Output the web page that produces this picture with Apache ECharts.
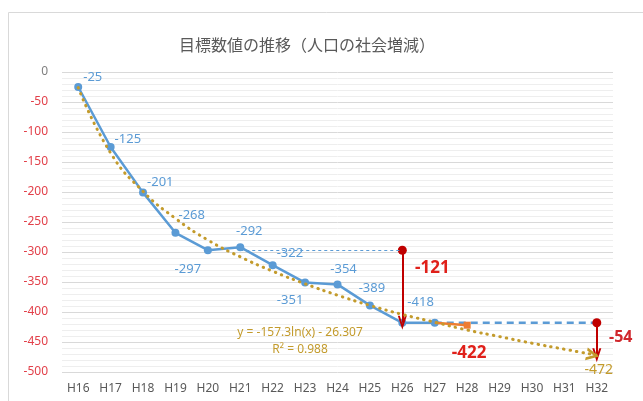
<!DOCTYPE html>
<html>
<head>
<meta charset="utf-8">
<script src="https://cdn.jsdelivr.net/npm/echarts@6/dist/echarts.min.js"></script>
<style>
  html, body { margin: 0; padding: 0; background: #fff; }
  #chart { width: 643px; height: 401px; }
</style>
</head>
<body>
<div id="chart"></div>
<script>
// 年度
const categories = ['H16', 'H17', 'H18', 'H19', 'H20', 'H21', 'H22', 'H23', 'H24', 'H25', 'H26', 'H27', 'H28', 'H29', 'H30', 'H31', 'H32']
// 実績（人口の社会増減）
const actual = [-25, -125, -201, -268, -297, -292, -322, -351, -354, -389, -418, -418, null, null, null, null, null]
// H27 の水準を H32 まで横ばい
const flatPlan = [null, null, null, null, null, null, null, null, null, null, null, -418, -418, -418, -418, -418, -418]
// 目標（H28）
const target = [null, null, null, null, null, null, null, null, null, null, null, -418, -422, null, null, null, null]
// 近似曲線（対数）
const trend = [-26, -135, -199, -244, -280, -308, -332, -353, -372, -389, -404, -417, -430, -441, -452, -462, -472]
const trendFormula = 'y = -157.3ln(x) - 26.307'
const trendR2 = 'R² = 0.988'

// ラベル位置 [position, dx, dy]
const labelPlace = [
  ['right', -4, -10], ['right', -5, -8], ['right', -5, -10], ['right', -6, -18],
  ['bottom', -20, 4], ['top', 9, 0], ['right', -5, -12], ['bottom', -15, 2],
  ['top', 6, 0], ['top', 2, -2], ['right', -4, -21], null
]

const blue = '#5B9BD5'
const gold = '#C39B2C'
const red = '#C00000'
const brightRed = '#E0201A'
// 開いた矢印
const vArrow = 'path://M0,10 L5,0 L10,10 L7.8,10 L5,4.4 L2.2,10 Z'
const endArrow = 'path://M0,0 L10,5 L0,10 L0,7.6 L5.6,5 L0,2.4 Z'

const chart = echarts.init(document.getElementById('chart'))

const actualData = actual.map((v, i) => {
  const p = labelPlace[i]
  if (v === null) return null
  return {
    value: v,
    label: p ? { show: true, position: p[0], offset: [p[1], p[2]] } : { show: false }
  }
})

const option = {
  animation: false,
  title: {
    text: '目標数値の推移（人口の社会増減）',
    left: 302,
    top: 32,
    textAlign: 'center',
    textStyle: {
      color: '#595959',
      fontSize: 16,
      fontWeight: 'normal',
      fontFamily: 'Noto Sans CJK JP'
    }
  },
  graphic: [{
    type: 'rect',
    left: 6,
    top: 10,
    shape: { width: 700, height: 420 },
    style: { fill: 'none', stroke: '#D9D9D9', lineWidth: 1 },
    silent: true
  }],
  grid: {
    left: 62,
    right: 30,
    top: 72,
    bottom: 29
  },
  xAxis: {
    type: 'category',
    data: categories,
    boundaryGap: true,
    axisLine: { show: false },
    axisTick: { show: false },
    axisLabel: {
      color: '#595959',
      fontSize: 12,
      fontFamily: 'Noto Sans',
      margin: 11
    }
  },
  yAxis: {
    type: 'value',
    min: -500,
    max: 0,
    interval: 50,
    axisLine: { show: false },
    axisTick: { show: false },
    axisLabel: {
      fontSize: 12,
      fontFamily: 'Noto Sans',
      margin: 14,
      formatter: v => v < 0 ? '{r|' + v + '}' : '{g|' + v + '}',
      rich: {
        r: { color: '#E2404A', fontSize: 12, fontFamily: 'Noto Sans' },
        g: { color: '#7F7F7F', fontSize: 12, fontFamily: 'Noto Sans' }
      }
    },
    splitLine: { lineStyle: { color: '#D9D9D9', width: 1 } },
    minorTick: { show: false, splitNumber: 5 },
    minorSplitLine: { show: true, lineStyle: { color: '#EEEEEE', width: 1 } }
  },
  series: [
    {
      name: '横ばい',
      type: 'line',
      data: flatPlan,
      symbol: 'none',
      lineStyle: { color: blue, width: 2.5, type: [7, 5] },
      z: 2,
      markLine: {
        silent: true,
        symbol: ['circle', vArrow],
        symbolSize: [9, 14],
        label: { show: false },
        lineStyle: { color: red, width: 2, type: 'solid' },
        data: [
          [{ coord: ['H26', -297] }, { coord: ['H26', -418] }],
          [{ coord: ['H32', -418] }, { coord: ['H32', -472] }]
        ]
      },
      markPoint: {
        symbol: 'circle',
        symbolSize: 0,
        label: { show: true, fontFamily: 'Noto Sans', fontWeight: 'bold' },
        data: [
          { coord: ['H26', -327], label: { formatter: '-121', color: brightRed, fontSize: 17, offset: [30, 0] } },
          { coord: ['H32', -443], label: { formatter: '-54', color: '#D0272C', fontSize: 16, offset: [24, 0] } },
          { coord: ['H28', -468], label: { formatter: '-422', color: brightRed, fontSize: 17, offset: [2, 0] } }
        ]
      }
    },
    {
      name: '基準',
      type: 'line',
      data: [],
      z: 2,
      markLine: {
        silent: true,
        symbol: 'none',
        label: { show: false },
        lineStyle: { color: blue, width: 1, type: [3, 3] },
        data: [[{ coord: ['H21', -297] }, { coord: ['H26', -297] }]]
      }
    },
    {
      name: '実績',
      type: 'line',
      data: actualData,
      symbol: 'circle',
      symbolSize: 8,
      itemStyle: { color: blue },
      lineStyle: { color: blue, width: 2.5 },
      label: { color: blue, fontSize: 13, fontFamily: 'Noto Sans' },
      z: 3
    },
    {
      name: '目標',
      type: 'line',
      data: target.map((v, i) => v === null ? null : { value: v, symbol: i === 12 ? 'rect' : 'none' }),
      symbolSize: 7,
      itemStyle: { color: '#ED7D31' },
      lineStyle: { color: '#ED7D31', width: 2.5 },
      z: 4
    },
    {
      name: '近似曲線',
      type: 'line',
      smooth: true,
      data: trend.map((v, i) => i === trend.length - 1
        ? { value: v, symbol: endArrow, symbolSize: 13, symbolRotate: -12, symbolOffset: [-4, 0] }
        : { value: v, symbol: 'none' }),
      itemStyle: { color: gold },
      lineStyle: { color: gold, width: 3, type: [0.5, 6], cap: 'round' },
      z: 5,
      markPoint: {
        symbol: 'circle',
        symbolSize: 0,
        label: { show: true, fontFamily: 'Noto Sans', color: gold },
        data: [
          { coord: ['H32', -497], label: { formatter: '-472', fontSize: 14, offset: [2, 0] } },
          { coord: ['H23', -448], label: { formatter: trendFormula + '\n' + trendR2, fontSize: 12, lineHeight: 17, align: 'center', offset: [-5, 0] } }
        ]
      }
    }
  ]
}

chart.setOption(option)
</script>
</body>
</html>
